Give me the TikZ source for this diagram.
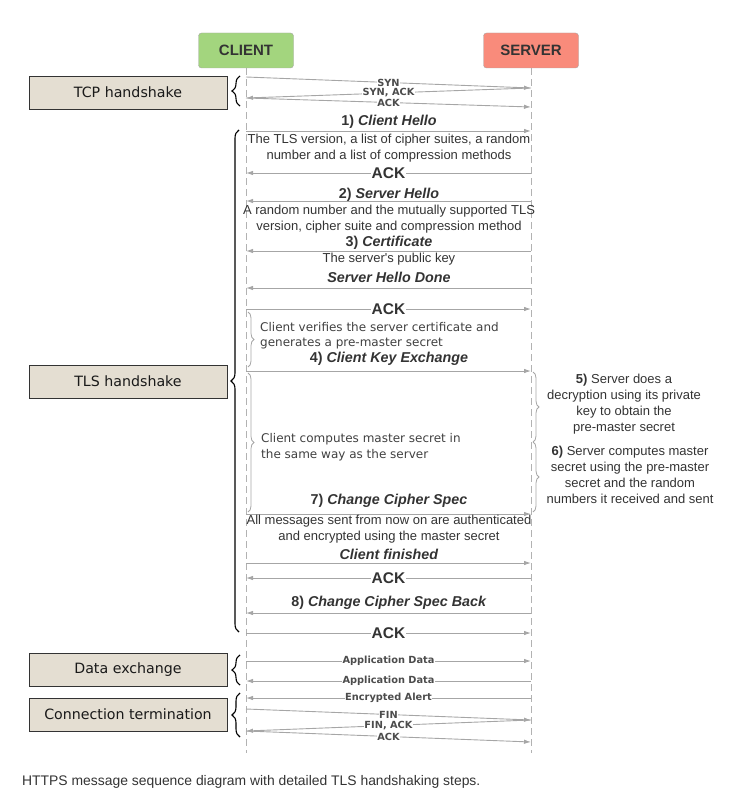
\documentclass[tikz,border=0pt]{standalone}
\usepackage{fontspec}
\setmainfont{Liberation Sans}
\newfontfamily\verafont{DejaVu Sans}
\usetikzlibrary{arrows.meta,positioning,decorations.pathreplacing}
\definecolor{clientgreen}{HTML}{A3D57E}
\definecolor{serverred}{HTML}{F98B7B}
\definecolor{phasebeige}{HTML}{E4DED2}
\definecolor{msggray}{HTML}{A6A6A6}
\definecolor{txtgray}{HTML}{333333}
\tikzset{
    party/.style={
        rectangle,
        rounded corners=3pt,
        draw=black!35,
        minimum width=95pt,
        minimum height=35pt,
        text=txtgray,
        font={\fontsize{15}{18}\selectfont\bfseries}
    },
    phase/.style={
        rectangle,
        draw=black!80,
        fill=phasebeige,
        minimum width=198pt,
        minimum height=33pt,
        text=black!90,
        font={\verafont\fontsize{14.2}{17}\selectfont}
    },
    lifeline/.style={draw=black!30, line width=0.8pt, dash pattern=on 7pt off 4pt},
    msg/.style={draw=msggray, line width=0.9pt, -{Latex[length=7pt,width=4.5pt]}},
    tiny/.style={fill=white, inner sep=0.5pt, text=black!70,
        font={\verafont\fontsize{9.8}{10}\selectfont\bfseries}},
    title/.style={inner sep=1pt, text=txtgray, font={\fontsize{14.3}{16}\selectfont\bfseries}},
    ack/.style={fill=white, inner sep=1pt, text=txtgray, font={\fontsize{15.5}{17}\selectfont\bfseries}},
    note/.style={align=center, inner sep=0pt, text=txtgray, font={\fontsize{13}{16}\selectfont}},
    clientnote/.style={align=left, anchor=west, inner sep=0pt, text=black!75,
        font={\verafont\fontsize{12}{15.5}\selectfont}},
    bbrace/.style={decorate, decoration={brace, amplitude=8pt}, draw=black, line width=1.1pt},
    gbrace/.style={decorate, decoration={brace, amplitude=6pt}, draw=black!35, line width=0.8pt},
}
\begin{document}
\begin{tikzpicture}[x=1pt, y=-1pt]
\useasboundingbox (0,0) rectangle (741,802);

% parties and lifelines
\node[party, fill=clientgreen] (client) at (246,50.5) {CLIENT};
\node[party, fill=serverred] (server) at (531,50.5) {SERVER};
\coordinate (clientend) at (246,753);
\coordinate (serverend) at (531,753);
\draw[lifeline] (client.south) -- (clientend);
\draw[lifeline] (server.south) -- (serverend);

% message levels on both lifelines
\foreach \n/\y in {t1/77, t2/88, t3/98, t4/107, hello/131, ack1/173, shello/201,
    cert/251, done/288, ack2/309, keyx/371, mid/442, ccs/514, fin/563, ack3/578,
    ccsb/613, ack4/633, app1/661, app2/681, alert/698, f1/709, f2/720, f3/731, f4/742}{
    \coordinate (c-\n) at (246,\y);
    \coordinate (s-\n) at (531,\y);
}

% phases
\node[phase] (tcp) at (128,92.5) {TCP handshake};
\node[phase] (tls) at (128,381.5) {TLS handshake};
\node[phase] (data) at (128,669.5) {Data exchange};
\node[phase] (term) at (128,714.5) {Connection termination};
\draw[bbrace] (240,106) -- (240,76);
\draw[bbrace] (239,632) -- (239,130);
\draw[bbrace] (240,685) -- (240,655);
\draw[bbrace] (240,737) -- (240,693);

% TCP handshake
\draw[msg] (c-t1) -- node[tiny]{SYN} (s-t2);
\draw[msg] (s-t2) -- node[tiny]{SYN, ACK} (c-t3);
\draw[msg] (c-t3) -- node[tiny]{ACK} (s-t4);

% TLS handshake
\node[title] (hellolbl) at (389,121.5) {1) \textit{Client Hello}};
\draw[msg] (c-hello) -- (s-hello);
\node[note] (helloinfo) at (389,148) {The TLS version, a list of cipher suites, a random\\
    number and a list of compression methods};
\draw[msg] (s-ack1) -- node[ack]{ACK} (c-ack1);
\node[title] (shellolbl) at (389,194.5) {2) \textit{Server Hello}};
\draw[msg] (s-shello) -- (c-shello);
\node[note] (shelloinfo) at (389,219) {A random number and the mutually supported TLS\\
    version, cipher suite and compression method};
\node[title] (certlbl) at (389,243) {3) \textit{Certificate}};
\draw[msg] (s-cert) -- (c-cert);
\node[note] (certinfo) at (389,259.5) {The server\textquotesingle s public key};
\node[title] (donelbl) at (389,277) {\textit{Server Hello Done}};
\draw[msg] (s-done) -- (c-done);
\draw[msg] (c-ack2) -- node[ack]{ACK} (s-ack2);
\draw[gbrace] (248,312) -- (248,367);
\node[clientnote] (verify) at (260,335.5) {Client verifies the server certificate and\\
    generates a pre-master secret};
\node[title] (keyxlbl) at (389,358.5) {4) \textit{Client Key Exchange}};
\draw[msg] (c-keyx) -- (s-keyx);
\draw[gbrace] (248,373) -- (248,512);
\node[clientnote] (compute) at (261,447) {Client computes master secret in\\
    the same way as the server};
\draw[gbrace] (533,372) -- (533,442);
\draw[gbrace] (533,442) -- (533,512);
\node[note] (decrypt) at (624,404) {\textbf{5)} Server does a\\decryption using its private\\
    key to obtain the\\pre-master secret};
\node[note] (master) at (630,474.5) {\textbf{6)} Server computes master\\
    secret using the pre-master\\secret and the random\\numbers it received and sent};
\node[title] (ccslbl) at (389,500.5) {7) \textit{Change Cipher Spec}};
\draw[msg] (c-ccs) -- (s-ccs);
\node[note] (ccsinfo) at (389,529.5) {All messages sent from now on are authenticated\\
    and encrypted using the master secret};
\node[title] (finlbl) at (389,554.5) {\textit{Client finished}};
\draw[msg] (c-fin) -- (s-fin);
\draw[msg] (s-ack3) -- node[ack]{ACK} (c-ack3);
\node[title] (ccsblbl) at (389,603) {8) \textit{Change Cipher Spec Back}};
\draw[msg] (s-ccsb) -- (c-ccsb);
\draw[msg] (c-ack4) -- node[ack]{ACK} (s-ack4);

% data exchange and termination
\draw[msg] (c-app1) -- node[tiny]{Application Data} (s-app1);
\draw[msg] (s-app2) -- node[tiny]{Application Data} (c-app2);
\draw[msg] (s-alert) -- node[tiny]{Encrypted Alert} (c-alert);
\draw[msg] (c-f1) -- node[tiny]{FIN} (s-f2);
\draw[msg] (s-f2) -- node[tiny]{FIN, ACK} (c-f3);
\draw[msg] (c-f3) -- node[tiny]{ACK} (s-f4);

% caption
\node[anchor=west, inner sep=0pt, text=txtgray, font={\fontsize{13.9}{16}\selectfont}] (caption)
    at (22,782) {HTTPS message sequence diagram with detailed TLS handshaking steps.};
\end{tikzpicture}
\end{document}
